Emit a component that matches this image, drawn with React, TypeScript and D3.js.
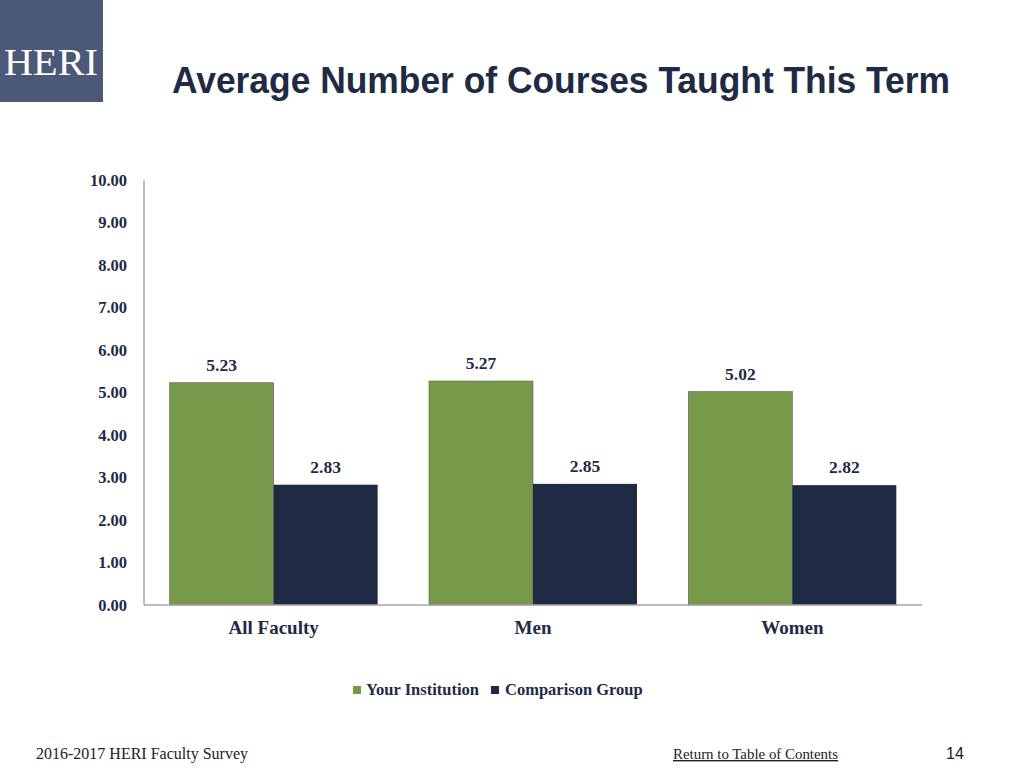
import React from "react";
import * as d3 from "d3";

const categories = ["All Faculty", "Men", "Women"];
const seriesNames = ["Your Institution", "Comparison Group"];
const yourInstitution = [5.23, 5.27, 5.02];
const comparisonGroup = [2.83, 2.85, 2.82];
const yTicks = [0, 1, 2, 3, 4, 5, 6, 7, 8, 9, 10];

const colors = ["#77994a", "#1f2a44"];
const ink = "#1f2a44";
const serif = "'Liberation Serif', 'DejaVu Serif', serif";

export default function App() {
  const W = 1024, H = 768;
  const left = 144, right = 922, top = 180, bottom = 605;
  const y = d3.scaleLinear().domain([0, 10]).range([bottom, top]);
  const x0 = d3.scaleBand<string>().domain(categories).range([left, right]).paddingInner(0).paddingOuter(0);
  const x1 = d3.scaleBand<string>().domain(seriesNames).range([0, x0.bandwidth()]).paddingOuter(0.247).paddingInner(0);
  const series = [yourInstitution, comparisonGroup];

  return (
    <svg width={W} height={H} style={{ position: "absolute", left: 0, top: 0, background: "#fff" }}>
      <rect x={0} y={0} width={103} height={102} fill="#4b5878" />
      <text x={51} y={75} textAnchor="middle" fill="#fff" fontFamily={serif} fontSize={37} textLength={94} lengthAdjust="spacingAndGlyphs">HERI</text>
      <text x={172} y={93} fill={ink} fontFamily="'Liberation Sans', Arial, sans-serif" fontWeight="bold" fontSize={36} textLength={778} lengthAdjust="spacingAndGlyphs">Average Number of Courses Taught This Term</text>

      {yTicks.map((t) => (
        <text key={t} x={127} y={y(t) + 5.5} textAnchor="end" fill={ink} fontFamily={serif} fontWeight="bold" fontSize={16.5}>
          {d3.format(".2f")(t)}
        </text>
      ))}

      {categories.map((c, i) => (
        <g key={c} transform={`translate(${x0(c)},0)`}>
          {seriesNames.map((s, j) => {
            const v = series[j][i];
            const bx = x1(s)!;
            return (
              <g key={s}>
                <rect x={bx} y={y(v)} width={x1.bandwidth()} height={bottom - y(v)} fill={colors[j]} stroke={j === 0 ? "#5a5a5a" : "none"} strokeWidth={0.6} />
                <text x={bx + x1.bandwidth() / 2} y={y(v) - 12} textAnchor="middle" fill={ink} fontFamily={serif} fontWeight="bold" fontSize={17.5}>
                  {d3.format(".2f")(v)}
                </text>
              </g>
            );
          })}
          <text x={x0.bandwidth() / 2} y={634} textAnchor="middle" fill={ink} fontFamily={serif} fontWeight="bold" fontSize={19}>{c}</text>
        </g>
      ))}

      <line x1={left} x2={left} y1={top} y2={bottom} stroke="#a6a6a6" strokeWidth={1.5} />
      <line x1={left} x2={right} y1={bottom} y2={bottom} stroke="#a6a6a6" strokeWidth={1.5} />

      <rect x={353} y={686} width={8} height={8} fill={colors[0]} />
      <text x={366} y={695} fill={ink} fontFamily={serif} fontWeight="bold" fontSize={16.5}>{seriesNames[0]}</text>
      <rect x={491} y={686} width={8} height={8} fill={colors[1]} />
      <text x={505} y={695} fill={ink} fontFamily={serif} fontWeight="bold" fontSize={16.5}>{seriesNames[1]}</text>

      <text x={36} y={759} fill="#222" fontFamily={serif} fontSize={16}>2016-2017 HERI Faculty Survey</text>
      <text x={673} y={759} fill="#222" fontFamily={serif} fontSize={14} textDecoration="underline" textLength={165} lengthAdjust="spacingAndGlyphs">Return to Table of Contents</text>
      <text x={946} y={759} fill="#222" fontFamily="'Liberation Sans', Arial, sans-serif" fontSize={16}>14</text>
    </svg>
  );
}
